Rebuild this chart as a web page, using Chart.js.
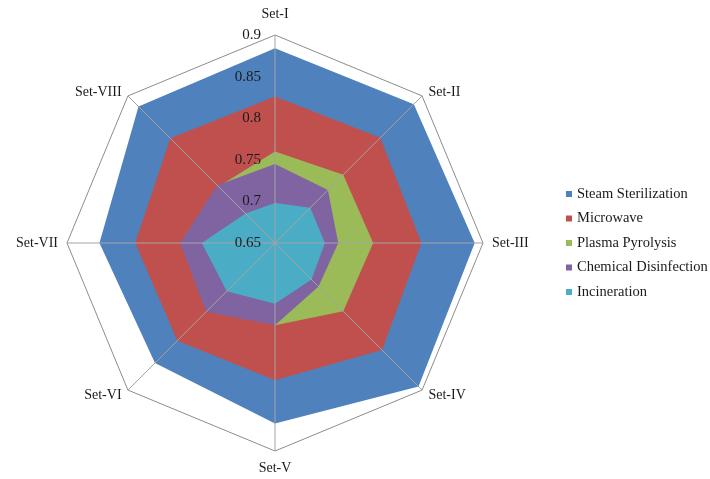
<!DOCTYPE html>
<html>
<head>
<meta charset="utf-8">
<script src="https://cdn.jsdelivr.net/npm/chart.js@4.4.1/dist/chart.umd.min.js"></script>
<style>
  html, body { margin: 0; padding: 0; background: #ffffff; }
  #wrap { width: 710px; height: 479px; }
</style>
</head>
<body>
<div id="wrap"><canvas id="c" width="710" height="479"></canvas></div>
<script>
// Axis categories
const categories = ['Set-I', 'Set-II', 'Set-III', 'Set-IV', 'Set-V', 'Set-VI', 'Set-VII', 'Set-VIII'];

// Series values, one per category
const steamSterilization   = [0.884, 0.886, 0.890, 0.894, 0.867, 0.854, 0.861, 0.882];
const microwave            = [0.826, 0.829, 0.826, 0.832, 0.815, 0.816, 0.818, 0.828];
const plasmaPyrolysis      = [0.760, 0.766, 0.768, 0.766, 0.749, 0.745, 0.745, 0.746];
const chemicalDisinfection = [0.745, 0.740, 0.726, 0.724, 0.749, 0.767, 0.764, 0.748];
const incineration         = [0.698, 0.710, 0.710, 0.712, 0.723, 0.732, 0.738, 0.700];

// Radial tick labels
const tickLabels = ['0.65', '0.7', '0.75', '0.8', '0.85', '0.9'];

const seriesNames  = ['Steam Sterilization', 'Microwave', 'Plasma Pyrolysis', 'Chemical Disinfection', 'Incineration'];
const seriesValues = [steamSterilization, microwave, plasmaPyrolysis, chemicalDisinfection, incineration];
const seriesColors = ['#4F81BD', '#C0504D', '#9BBB59', '#8064A2', '#4BACC6'];

const SERIF = '"Liberation Serif", "Times New Roman", serif';
const TEXT_COLOR = '#1a1a1a';

// Spokes drawn over the filled areas, plus axis labels, tick labels and legend
const overlay = {
  id: 'overlay',
  afterDatasetsDraw(chart) {
    const ctx = chart.ctx;
    const r = chart.scales.r;
    const n = chart.data.labels.length;

    // spokes
    ctx.save();
    ctx.strokeStyle = '#a3a3a3';
    ctx.lineWidth = 1;
    for (let i = 0; i < n; i++) {
      const p = r.getPointPosition(i, r.drawingArea);
      ctx.beginPath();
      ctx.moveTo(r.xCenter, r.yCenter);
      ctx.lineTo(p.x, p.y);
      ctx.stroke();
    }
    ctx.restore();

    // tick labels, right-aligned beside the vertical axis
    ctx.save();
    ctx.font = '15px ' + SERIF;
    ctx.fillStyle = TEXT_COLOR;
    ctx.textAlign = 'right';
    ctx.textBaseline = 'middle';
    tickLabels.forEach(t => {
      const d = r.getDistanceFromCenterForValue(Number(t));
      ctx.fillText(t, r.xCenter - 14, r.yCenter - d);
    });
    ctx.restore();

    // category labels round the outside
    ctx.save();
    ctx.font = '14px ' + SERIF;
    ctx.fillStyle = TEXT_COLOR;
    ctx.textBaseline = 'middle';
    chart.data.labels.forEach((lab, i) => {
      const v = r.getPointPosition(i, r.drawingArea);
      const dx = v.x - r.xCenter;
      const dy = v.y - r.yCenter;
      if (Math.abs(dx) < 1) {
        ctx.textAlign = 'center';
        ctx.fillText(lab, v.x, dy < 0 ? v.y - 21 : v.y + 17);
      } else {
        const p = r.getPointPosition(i, r.drawingArea + 9);
        ctx.textAlign = dx > 0 ? 'left' : 'right';
        let y = p.y;
        if (Math.abs(dy) > 1) y = v.y + (dy < 0 ? -4 : 5);
        ctx.fillText(lab, p.x, y);
      }
    });
    ctx.restore();
  },
  afterDraw(chart) {
    const ctx = chart.ctx;
    ctx.save();
    ctx.font = '14.5px ' + SERIF;
    ctx.textBaseline = 'middle';
    ctx.textAlign = 'left';
    chart.data.datasets.forEach((ds, i) => {
      const y = 194 + i * 24.5;
      ctx.fillStyle = ds.backgroundColor;
      ctx.fillRect(566, y - 3, 6, 6);
      ctx.fillStyle = TEXT_COLOR;
      ctx.fillText(ds.label, 577, y);
    });
    ctx.restore();
  }
};

const datasets = seriesNames.map((name, i) => ({
  label: name,
  data: seriesValues[i],
  backgroundColor: seriesColors[i],
  borderColor: 'rgba(0,0,0,0)',
  borderWidth: 0,
  pointRadius: 0,
  pointHoverRadius: 0,
  fill: 'origin',
  tension: 0,
  order: seriesNames.length - i
}));

new Chart(document.getElementById('c'), {
  type: 'radar',
  data: { labels: categories, datasets },
  options: {
    responsive: false,
    animation: false,
    events: [],
    layout: { padding: { left: 67, right: 227, top: 35, bottom: 28 } },
    plugins: {
      legend: { display: false },
      tooltip: { enabled: false }
    },
    scales: {
      r: {
        min: 0.65,
        max: 0.9,
        ticks: { display: false, stepSize: 0.05 },
        pointLabels: { display: false },
        angleLines: { display: false },
        grid: {
          circular: false,
          lineWidth: 1,
          color: (c) => (c.index === c.chart.scales.r.ticks.length - 1 ? '#8c8c8c' : 'rgba(0,0,0,0)')
        }
      }
    }
  },
  plugins: [overlay]
});
</script>
</body>
</html>
